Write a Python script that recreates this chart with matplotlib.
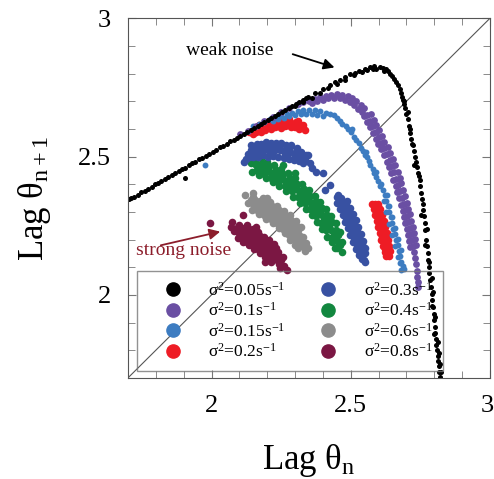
import matplotlib

matplotlib.use("Agg")
import matplotlib.pyplot as plt  # noqa: E402
from matplotlib.lines import Line2D  # noqa: E402
from matplotlib.ticker import MultipleLocator  # noqa: E402
from matplotlib.transforms import ScaledTranslation  # noqa: E402

plt.rcParams.update({
    "font.family": ["Liberation Serif", "DejaVu Serif"],
    "mathtext.fontset": "custom",
    "mathtext.rm": "Liberation Serif",
    "mathtext.it": "Liberation Serif:italic",
    "mathtext.bf": "Liberation Serif:bold",
})

# noise levels (s^-1), legend order
SIGMA2 = ["0.05", "0.1", "0.15", "0.2", "0.3", "0.4", "0.6", "0.8"]
COLORS = ["#000000", "#6a4fa3", "#3d7cc1", "#ee1c25",
          "#3851a2", "#12873f", "#8c8c8c", "#7b1743"]
TICKS = [2, 2.5, 3]

# (Lag theta_n, Lag theta_n+1)
S005 = [
    (1.705, 2.345), (1.712, 2.352), (1.722, 2.354), (1.735, 2.361), (1.748, 2.371),
    (1.760, 2.375), (1.772, 2.384), (1.785, 2.391), (1.797, 2.400), (1.808, 2.404),
    (1.820, 2.413), (1.832, 2.418), (1.845, 2.427), (1.857, 2.433), (1.870, 2.440),
    (1.882, 2.447), (1.893, 2.455), (1.905, 2.460), (1.905, 2.422), (1.918, 2.469),
    (1.930, 2.476), (1.942, 2.482), (1.955, 2.490), (1.967, 2.496), (1.980, 2.503),
    (1.992, 2.511), (2.005, 2.518), (2.017, 2.524), (2.030, 2.533), (2.042, 2.539),
    (2.055, 2.546), (2.067, 2.555), (2.080, 2.561), (2.092, 2.568), (2.104, 2.575),
    (2.117, 2.583), (2.129, 2.589), (2.141, 2.597), (2.153, 2.604), (2.166, 2.611),
    (2.178, 2.618), (2.190, 2.625), (2.203, 2.633), (2.215, 2.639), (2.228, 2.647),
    (2.240, 2.654), (2.252, 2.660), (2.265, 2.668), (2.277, 2.675), (2.290, 2.683),
    (2.302, 2.690), (2.315, 2.697), (2.327, 2.704), (2.340, 2.711),
    (2.300, 2.682), (2.330, 2.697), (2.360, 2.713), (2.390, 2.730), (2.420, 2.747),
    (2.450, 2.762), (2.480, 2.778), (2.510, 2.795),
    (2.346, 2.715), (2.370, 2.728), (2.400, 2.745), (2.425, 2.758), (2.445, 2.768),
    (2.460, 2.776), (2.480, 2.787), (2.497, 2.797), (2.515, 2.803), (2.530, 2.810),
    (2.550, 2.817), (2.569, 2.823), (2.585, 2.826), (2.605, 2.823), (2.615, 2.820),
    (2.625, 2.815), (2.635, 2.808), (2.641, 2.800), (2.648, 2.790), (2.655, 2.782),
    (2.662, 2.770), (2.540, 2.805), (2.560, 2.812), (2.590, 2.815), (2.620, 2.810),
    (2.580, 2.818),
    (2.669, 2.758), (2.675, 2.745), (2.680, 2.730), (2.684, 2.715), (2.687, 2.704),
    (2.692, 2.690), (2.695, 2.675), (2.700, 2.655), (2.704, 2.635), (2.708, 2.610),
    (2.713, 2.584), (2.716, 2.565), (2.720, 2.545), (2.726, 2.520), (2.730, 2.500),
    (2.735, 2.480), (2.738, 2.462), (2.742, 2.440), (2.748, 2.415), (2.750, 2.395),
    (2.753, 2.370), (2.756, 2.345), (2.759, 2.306), (2.762, 2.285), (2.765, 2.260),
    (2.766, 2.235), (2.770, 2.198), (2.773, 2.175), (2.776, 2.150), (2.778, 2.125),
    (2.780, 2.100), (2.782, 2.078), (2.784, 2.054), (2.787, 2.030), (2.790, 2.005),
    (2.793, 1.980), (2.795, 1.955), (2.797, 1.930), (2.799, 1.909), (2.801, 1.885),
    (2.803, 1.862), (2.805, 1.840), (2.807, 1.820), (2.809, 1.801), (2.812, 1.780),
    (2.814, 1.760), (2.816, 1.742), (2.818, 1.722), (2.820, 1.705),
    (2.690, 2.700), (2.705, 2.660), (2.712, 2.600), (2.722, 2.540), (2.728, 2.470),
    (2.745, 2.430), (2.760, 2.330), (2.752, 2.290), (2.772, 2.240), (2.768, 2.180),
    (2.782, 2.120), (2.790, 2.060), (2.795, 2.010), (2.790, 1.960), (2.804, 1.920),
    (2.800, 1.860), (2.812, 1.830), (2.815, 1.790), (2.820, 1.750), (2.823, 1.720),
]
S01 = [
    (2.102, 2.580), (2.130, 2.594), (2.160, 2.610), (2.190, 2.627), (2.220, 2.643),
    (2.250, 2.660), (2.280, 2.676), (2.310, 2.690), (2.330, 2.698),
    (2.350, 2.700), (2.370, 2.708), (2.390, 2.715), (2.410, 2.720), (2.430, 2.724),
    (2.450, 2.726), (2.470, 2.724), (2.490, 2.718), (2.505, 2.710), (2.520, 2.700),
    (2.535, 2.688), (2.548, 2.674),
    (2.360, 2.692), (2.380, 2.700), (2.400, 2.706), (2.420, 2.710), (2.440, 2.712),
    (2.460, 2.711), (2.480, 2.705), (2.497, 2.696), (2.512, 2.686), (2.527, 2.673),
    (2.540, 2.660),
    (2.560, 2.650), (2.570, 2.630), (2.580, 2.610), (2.590, 2.590), (2.600, 2.570),
    (2.610, 2.550), (2.620, 2.530), (2.630, 2.508), (2.640, 2.486), (2.648, 2.465),
    (2.656, 2.443), (2.664, 2.420), (2.671, 2.398), (2.677, 2.375), (2.684, 2.352),
    (2.690, 2.330), (2.696, 2.308), (2.702, 2.286), (2.707, 2.264), (2.712, 2.242),
    (2.716, 2.220), (2.720, 2.198), (2.724, 2.176), (2.728, 2.154), (2.731, 2.132),
    (2.734, 2.110), (2.737, 2.088), (2.739, 2.066), (2.741, 2.045), (2.742, 2.030),
    (2.549, 2.646), (2.559, 2.626), (2.568, 2.607), (2.579, 2.586), (2.590, 2.565),
    (2.599, 2.546), (2.608, 2.527), (2.619, 2.504), (2.630, 2.481), (2.637, 2.461),
    (2.644, 2.440), (2.653, 2.416), (2.661, 2.393), (2.666, 2.371), (2.672, 2.349),
    (2.679, 2.326), (2.686, 2.303), (2.691, 2.282), (2.695, 2.261), (2.701, 2.238),
    (2.707, 2.215), (2.710, 2.194), (2.714, 2.173),
    (2.571, 2.654), (2.582, 2.633), (2.591, 2.614), (2.600, 2.595), (2.612, 2.573),
    (2.621, 2.554), (2.632, 2.533), (2.641, 2.512), (2.650, 2.491), (2.659, 2.469),
    (2.668, 2.446), (2.675, 2.424), (2.681, 2.403), (2.689, 2.378), (2.695, 2.356),
    (2.702, 2.333), (2.707, 2.312), (2.712, 2.291), (2.718, 2.268), (2.724, 2.245),
    (2.727, 2.224), (2.730, 2.203), (2.735, 2.179),
]
S015 = [
    (2.150, 2.610), (2.170, 2.618), (2.190, 2.626), (2.210, 2.634), (2.230, 2.641),
    (2.250, 2.648), (2.270, 2.654), (2.290, 2.659), (2.310, 2.664), (2.330, 2.667),
    (2.350, 2.668), (2.370, 2.667), (2.390, 2.664), (2.410, 2.659), (2.425, 2.652),
    (2.220, 2.628), (2.240, 2.634), (2.260, 2.641), (2.280, 2.646), (2.300, 2.650),
    (2.320, 2.654), (2.340, 2.655), (2.360, 2.654), (2.380, 2.651), (2.400, 2.646),
    (2.440, 2.650), (2.452, 2.640), (2.462, 2.628), (2.470, 2.618), (2.482, 2.612),
    (2.490, 2.598), (2.500, 2.588), (2.505, 2.600), (2.512, 2.572), (2.520, 2.560),
    (2.528, 2.548), (2.535, 2.530), (2.545, 2.520), (2.550, 2.505), (2.558, 2.498),
    (2.565, 2.485), (2.570, 2.470), (2.578, 2.455), (2.585, 2.440), (2.592, 2.425),
    (2.598, 2.410), (2.605, 2.392), (2.590, 2.445), (2.555, 2.515), (1.977, 2.469),
    (2.610, 2.400), (2.616, 2.380), (2.622, 2.360), (2.628, 2.340), (2.633, 2.320),
    (2.638, 2.300), (2.643, 2.280), (2.648, 2.260), (2.653, 2.240), (2.658, 2.220),
    (2.663, 2.200), (2.668, 2.180), (2.673, 2.160), (2.678, 2.140), (2.682, 2.120),
    (2.686, 2.105),
    (2.629, 2.362), (2.639, 2.322), (2.649, 2.282), (2.659, 2.242), (2.669, 2.202),
    (2.679, 2.162), (2.618, 2.338), (2.628, 2.298), (2.638, 2.258), (2.648, 2.218),
    (2.658, 2.178), (2.668, 2.138), (2.690, 2.095), (2.680, 2.090), (2.675, 2.115),
]
S02 = [
    (2.135, 2.590), (2.145, 2.592), (2.150, 2.580), (2.160, 2.600),
    (2.172, 2.615), (2.174, 2.602), (2.176, 2.588), (2.192, 2.610), (2.192, 2.596),
    (2.208, 2.629), (2.210, 2.613), (2.212, 2.599), (2.228, 2.620), (2.228, 2.606),
    (2.244, 2.633), (2.246, 2.617), (2.248, 2.603), (2.264, 2.624), (2.264, 2.610),
    (2.280, 2.636), (2.282, 2.620), (2.284, 2.606), (2.298, 2.620), (2.298, 2.606),
    (2.309, 2.629), (2.311, 2.613), (2.313, 2.599), (2.322, 2.608),
    (2.330, 2.615), (2.334, 2.595),
    (2.200, 2.620), (2.236, 2.626), (2.272, 2.628), (2.302, 2.625), (2.184, 2.604),
    (2.220, 2.612), (2.256, 2.614), (2.290, 2.613), (2.160, 2.588), (2.236, 2.610),
    (2.272, 2.614),
    (2.576, 2.330), (2.588, 2.330), (2.598, 2.328), (2.582, 2.310), (2.594, 2.310),
    (2.606, 2.310), (2.588, 2.288), (2.600, 2.288), (2.612, 2.288), (2.594, 2.266),
    (2.606, 2.266), (2.618, 2.266), (2.599, 2.244), (2.611, 2.244), (2.623, 2.244),
    (2.605, 2.222), (2.617, 2.222), (2.629, 2.222), (2.610, 2.200), (2.622, 2.200),
    (2.634, 2.200), (2.615, 2.178), (2.627, 2.178), (2.639, 2.178), (2.622, 2.156),
    (2.631, 2.156), (2.640, 2.158), (2.628, 2.140), (2.636, 2.142),
    (2.585, 2.320), (2.597, 2.320), (2.591, 2.299), (2.603, 2.299), (2.597, 2.277),
    (2.609, 2.277), (2.602, 2.255), (2.614, 2.255), (2.608, 2.233), (2.620, 2.233),
    (2.613, 2.211), (2.625, 2.211), (2.618, 2.189), (2.630, 2.189), (2.624, 2.167),
    (2.635, 2.167),
]
S03 = [
    (2.125, 2.492), (2.130, 2.510), (2.118, 2.480),
    (2.150, 2.500), (2.154, 2.517), (2.158, 2.532), (2.162, 2.546),
    (2.186, 2.506), (2.190, 2.522), (2.194, 2.538), (2.197, 2.552),
    (2.222, 2.503), (2.226, 2.519), (2.230, 2.535), (2.233, 2.550),
    (2.260, 2.495), (2.263, 2.511), (2.266, 2.527), (2.269, 2.541),
    (2.296, 2.486), (2.299, 2.502), (2.302, 2.517), (2.306, 2.530),
    (2.330, 2.476), (2.334, 2.491), (2.339, 2.505),
    (2.140, 2.525), (2.174, 2.528), (2.210, 2.528), (2.246, 2.524), (2.282, 2.518),
    (2.318, 2.498), (2.210, 2.512), (2.174, 2.512), (2.246, 2.540), (2.282, 2.534),
    (2.140, 2.540), (2.176, 2.545), (2.212, 2.548), (2.248, 2.548), (2.284, 2.540),
    (2.320, 2.515), (2.168, 2.500), (2.204, 2.500), (2.240, 2.497), (2.278, 2.492),
    (2.314, 2.484), (2.136, 2.498),
    (2.355, 2.475), (2.362, 2.460), (2.375, 2.444), (2.400, 2.440), (2.425, 2.397),
    (2.451, 2.353), (2.407, 2.379), (2.345, 2.505),
    (2.452, 2.332), (2.470, 2.335), (2.488, 2.338), (2.462, 2.310), (2.480, 2.312),
    (2.498, 2.315), (2.472, 2.288), (2.490, 2.290), (2.508, 2.293), (2.481, 2.264),
    (2.499, 2.266), (2.517, 2.269), (2.490, 2.241), (2.508, 2.243), (2.526, 2.246),
    (2.499, 2.216), (2.517, 2.218), (2.535, 2.221), (2.508, 2.190), (2.526, 2.192),
    (2.544, 2.195), (2.518, 2.166), (2.534, 2.168), (2.550, 2.171), (2.530, 2.144),
    (2.541, 2.145), (2.552, 2.150), (2.546, 2.125), (2.552, 2.118), (2.540, 2.130),
    (2.465, 2.350), (2.455, 2.360),
    (2.466, 2.323), (2.476, 2.300), (2.484, 2.277), (2.494, 2.253), (2.503, 2.229),
    (2.512, 2.205), (2.521, 2.180), (2.530, 2.157), (2.484, 2.325), (2.494, 2.302),
    (2.503, 2.279), (2.512, 2.256), (2.521, 2.232), (2.530, 2.208), (2.539, 2.183),
    (2.545, 2.160),
]
S04 = [
    (2.144, 2.446), (2.160, 2.470), (2.176, 2.494), (2.169, 2.434), (2.185, 2.458),
    (2.201, 2.482), (2.194, 2.421), (2.210, 2.445), (2.226, 2.469), (2.219, 2.407),
    (2.235, 2.431), (2.251, 2.455), (2.244, 2.392), (2.260, 2.416), (2.276, 2.440),
    (2.269, 2.374), (2.285, 2.398), (2.301, 2.422), (2.294, 2.354), (2.310, 2.378),
    (2.326, 2.402), (2.317, 2.332), (2.333, 2.356), (2.349, 2.380), (2.339, 2.310),
    (2.355, 2.334), (2.371, 2.358), (2.359, 2.289), (2.375, 2.313), (2.391, 2.337),
    (2.379, 2.264), (2.395, 2.288), (2.411, 2.312), (2.397, 2.238), (2.413, 2.262),
    (2.429, 2.286), (2.414, 2.211), (2.430, 2.235), (2.446, 2.259), (2.432, 2.190),
    (2.446, 2.207), (2.460, 2.228), (2.452, 2.170), (2.460, 2.180), (2.468, 2.192),
    (2.177, 2.446), (2.193, 2.470), (2.227, 2.419), (2.243, 2.443), (2.277, 2.386),
    (2.293, 2.410), (2.325, 2.344), (2.341, 2.368), (2.367, 2.301), (2.383, 2.325),
    (2.405, 2.250), (2.421, 2.274), (2.439, 2.199), (2.453, 2.218),
    (2.172, 2.464), (2.197, 2.451), (2.222, 2.438), (2.247, 2.423), (2.272, 2.407),
    (2.297, 2.388), (2.321, 2.367), (2.344, 2.345), (2.365, 2.323), (2.385, 2.300),
    (2.404, 2.275), (2.421, 2.248), (2.438, 2.221), (2.453, 2.193),
    (2.163, 2.450), (2.182, 2.478), (2.188, 2.437), (2.207, 2.466), (2.213, 2.424),
    (2.232, 2.452), (2.238, 2.409), (2.257, 2.438), (2.263, 2.393), (2.282, 2.421),
    (2.288, 2.374), (2.307, 2.402), (2.312, 2.353), (2.331, 2.381), (2.334, 2.331),
    (2.354, 2.359), (2.355, 2.309), (2.375, 2.338), (2.375, 2.286), (2.395, 2.315),
    (2.394, 2.261), (2.414, 2.289), (2.412, 2.234), (2.431, 2.263), (2.428, 2.207),
    (2.448, 2.235),
    (2.150, 2.490), (2.175, 2.505), (2.140, 2.478), (2.300, 2.440), (2.470, 2.155),
    (2.445, 2.170), (2.255, 2.470), (2.156, 2.480),
]
S06 = [
    (2.131, 2.331), (2.140, 2.342), (2.150, 2.353), (2.146, 2.308), (2.156, 2.319),
    (2.165, 2.330), (2.175, 2.341), (2.184, 2.352), (2.171, 2.293), (2.181, 2.304),
    (2.190, 2.315), (2.200, 2.326), (2.209, 2.337), (2.196, 2.276), (2.206, 2.287),
    (2.215, 2.298), (2.225, 2.309), (2.234, 2.320), (2.221, 2.260), (2.231, 2.271),
    (2.240, 2.282), (2.250, 2.293), (2.259, 2.304), (2.243, 2.243), (2.253, 2.254),
    (2.262, 2.265), (2.272, 2.276), (2.281, 2.287), (2.264, 2.223), (2.274, 2.234),
    (2.283, 2.245), (2.293, 2.256), (2.302, 2.267), (2.283, 2.200), (2.293, 2.211),
    (2.302, 2.222), (2.312, 2.233), (2.321, 2.244), (2.309, 2.187), (2.318, 2.198),
    (2.328, 2.209), (2.328, 2.178), (2.338, 2.189),
    (2.163, 2.306), (2.173, 2.317), (2.182, 2.328), (2.192, 2.339), (2.188, 2.290),
    (2.198, 2.301), (2.207, 2.312), (2.217, 2.323), (2.213, 2.274), (2.223, 2.285),
    (2.232, 2.296), (2.242, 2.307), (2.237, 2.257), (2.246, 2.268), (2.256, 2.279),
    (2.265, 2.290), (2.258, 2.239), (2.268, 2.250), (2.277, 2.261), (2.287, 2.272),
    (2.278, 2.217), (2.288, 2.228), (2.297, 2.239), (2.307, 2.250), (2.301, 2.199),
    (2.315, 2.216), (2.148, 2.330), (2.157, 2.342),
    (2.120, 2.360), (2.150, 2.370), (2.345, 2.170), (2.335, 2.160), (2.300, 2.180),
    (2.200, 2.350), (2.310, 2.170),
]
S08 = [
    (2.081, 2.230), (2.091, 2.241), (2.098, 2.253), (2.094, 2.206), (2.103, 2.218),
    (2.111, 2.229), (2.118, 2.241), (2.126, 2.252), (2.112, 2.192), (2.121, 2.205),
    (2.131, 2.215), (2.138, 2.229), (2.148, 2.238), (2.134, 2.181), (2.141, 2.190),
    (2.151, 2.204), (2.160, 2.214), (2.166, 2.227), (2.152, 2.167), (2.163, 2.176),
    (2.171, 2.190), (2.178, 2.200), (2.188, 2.211), (2.174, 2.151), (2.181, 2.164),
    (2.191, 2.174), (2.200, 2.188), (2.206, 2.199), (2.192, 2.138), (2.203, 2.147),
    (2.209, 2.161), (2.220, 2.171), (2.226, 2.184), (2.221, 2.130), (2.231, 2.143),
    (2.238, 2.155), (2.243, 2.112), (2.251, 2.125), (2.258, 2.137),
    (2.107, 2.205), (2.116, 2.216), (2.124, 2.228), (2.133, 2.239), (2.127, 2.192),
    (2.136, 2.204), (2.144, 2.215), (2.153, 2.227), (2.147, 2.179), (2.156, 2.190),
    (2.164, 2.202), (2.173, 2.213), (2.167, 2.165), (2.176, 2.176), (2.184, 2.188),
    (2.193, 2.199), (2.187, 2.150), (2.196, 2.162), (2.204, 2.173), (2.213, 2.185),
    (2.207, 2.134), (2.216, 2.145), (2.224, 2.157), (2.233, 2.168), (2.096, 2.228),
    (2.104, 2.240), (2.236, 2.127), (2.244, 2.139),
    (1.994, 2.260), (2.073, 2.263), (2.113, 2.288), (2.271, 2.090), (2.246, 2.097),
    (2.192, 2.119), (2.262, 2.105), (2.070, 2.245), (2.158, 2.245), (2.215, 2.120),
]
SERIES = [S005, S01, S015, S02, S03, S04, S06, S08]
DOT_SIZE = [13, 24, 18, 30, 30, 30, 30, 30]

fig = plt.figure(figsize=(4.94, 4.79), dpi=100)
ax = fig.add_axes([0.259, 0.211, 0.733, 0.751])

ax.axline((2.0, 2.0), slope=1, color="#555555", lw=0.8, zorder=1)

# strongest noise first so the weak-noise attractor sits on top
for pts, c, s in reversed(list(zip(SERIES, COLORS, DOT_SIZE))):
    xs, ys = zip(*pts)
    ax.scatter(xs, ys, s=s, color=c, lw=0, zorder=2)

ax.set_xlim(1.7, 3.0)
ax.set_ylim(1.7, 3.0)
ax.set_xticks(TICKS, [f"{v:g}" for v in TICKS])
ax.set_yticks(TICKS, [f"{v:g}" for v in TICKS])
ax.xaxis.set_minor_locator(MultipleLocator(0.1))
ax.yaxis.set_minor_locator(MultipleLocator(0.1))
ax.tick_params(which="both", direction="in", top=True, right=True,
               color="#777777", labelsize=19)
ax.tick_params(which="major", length=6, pad=12)
ax.tick_params(which="minor", length=5)
for sp in ax.spines.values():
    sp.set_color("#555555")

# nudge the last x label in a little so it stays on the canvas
last = ax.xaxis.get_major_ticks()[-1].label1
last.set_transform(last.get_transform()
                   + ScaledTranslation(-3 / 100, 0, fig.dpi_scale_trans))

ax.set_xlabel(r"Lag θ$_\mathrm{n}$", fontsize=25, labelpad=18)
ax.set_ylabel(r"Lag θ$_\mathrm{n+1}$", fontsize=25, labelpad=18)

ax.annotate("", xy=(2.451, 2.819), xytext=(2.282, 2.873),
            arrowprops=dict(arrowstyle="-|>", color="black", lw=1.3,
                            mutation_scale=16))
ax.text(2.066, 2.884, "weak noise", fontsize=14, ha="center", va="center")

ax.annotate("", xy=(2.041, 2.231), xytext=(1.808, 2.177),
            arrowprops=dict(arrowstyle="-|>", color="#8c1d2b", lw=1.3,
                            mutation_scale=16))
ax.text(1.898, 2.162, "strong noise", fontsize=14, color="#8c1d2b",
        ha="center", va="center")

handles = [Line2D([], [], ls="", marker="o", markersize=9.5, color=c)
           for c in COLORS]
labels = [rf"σ$^2$={v}s$^{{-1}}$" for v in SIGMA2]
ax.legend(handles, labels, ncol=2, loc="upper left",
          bbox_to_anchor=(0.025, 0.297), borderaxespad=0, fontsize=12.5,
          frameon=True, fancybox=False, edgecolor="#777777", facecolor="none",
          framealpha=None, borderpad=0.6, handlelength=2.9, handletextpad=0.6,
          columnspacing=1.0, labelspacing=0.15)

fig.savefig("out.png", dpi=100)
